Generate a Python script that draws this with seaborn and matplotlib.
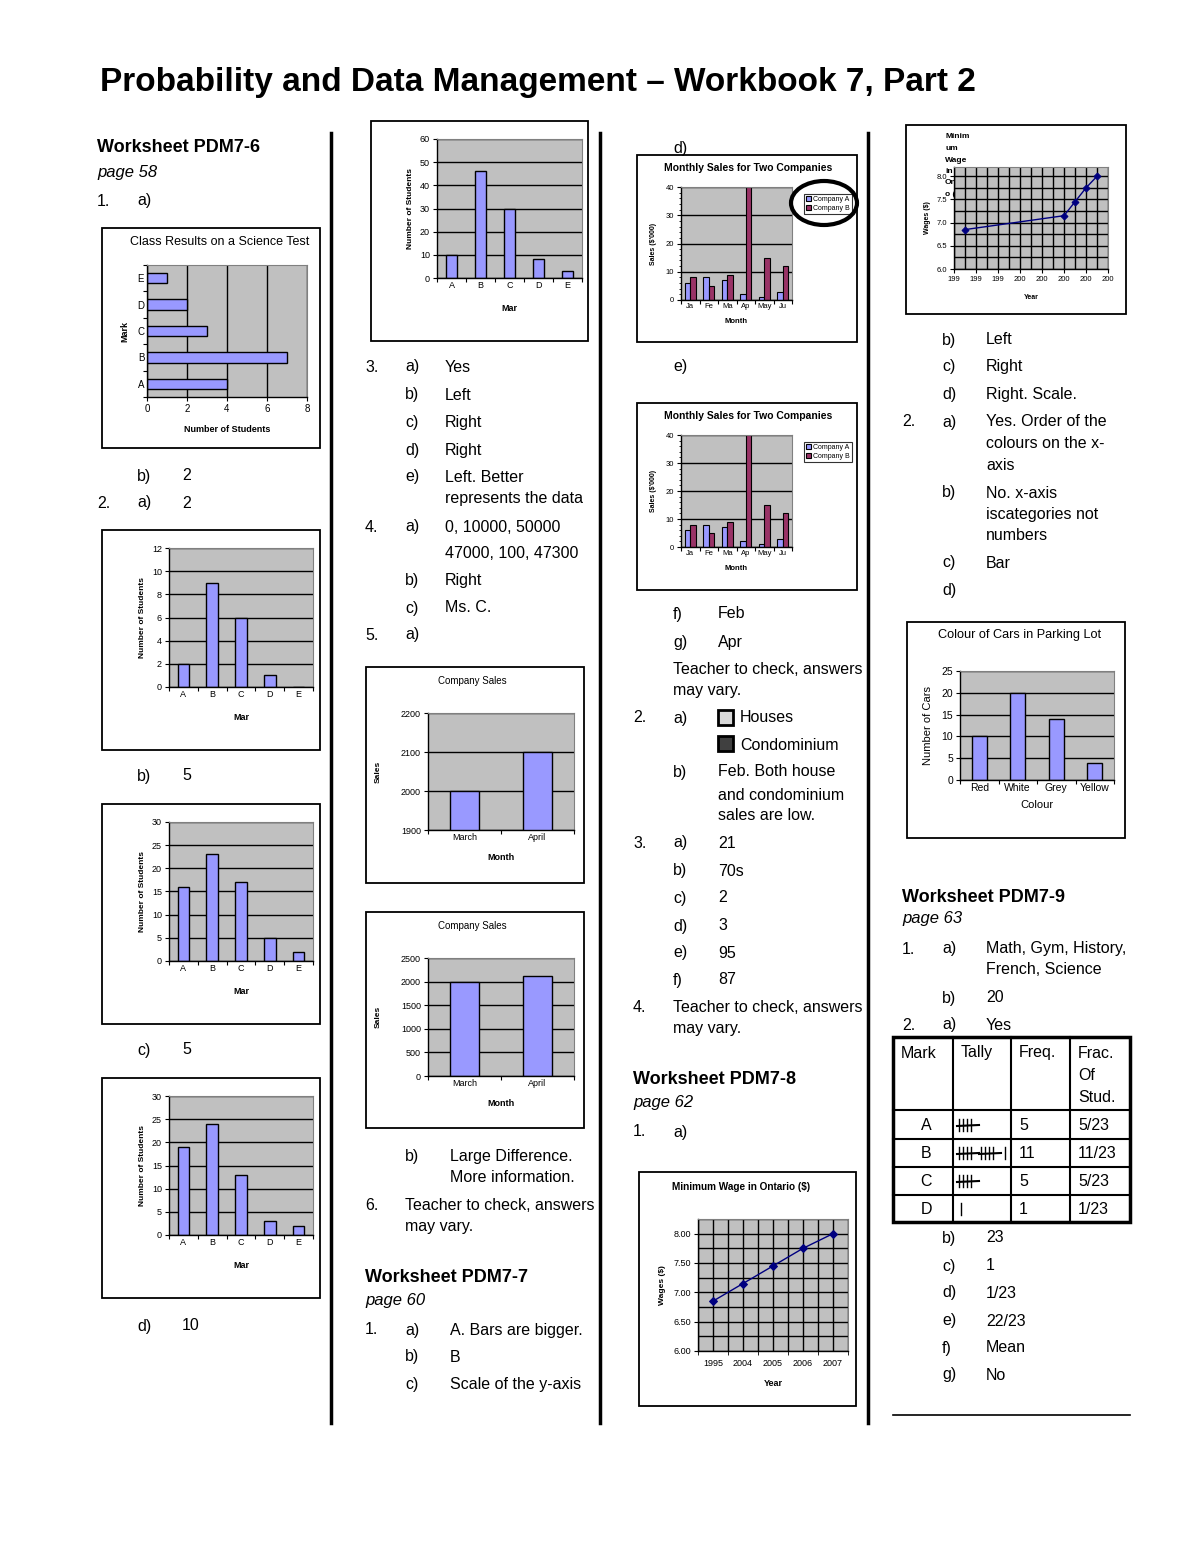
import numpy as np
import pandas as pd
import matplotlib
matplotlib.use('Agg')
import matplotlib.pyplot as plt
from matplotlib.patches import Rectangle, Ellipse
import seaborn as sns

plt.rcParams['font.family'] = ['Liberation Sans', 'DejaVu Sans']

# datos de los graficos
marks = ['A', 'B', 'C', 'D', 'E']
science_students = [4, 7, 3, 2, 1]
students_q2a = [2, 9, 6, 1, 0]
students_q2b = [16, 23, 17, 5, 2]
students_q2c = [19, 24, 13, 3, 2]
students_q3 = [10, 46, 30, 8, 3]

sales_months = ['March', 'April']
sales_zoomed = [2000, 2100]
sales_full = [2000, 2120]

monthly_months = ['Ja', 'Fe', 'Ma', 'Ap', 'May', 'Ju']
company_a = [6, 8, 7, 2, 1, 3]
company_b = [8, 5, 9, 40, 15, 12]

wage_years = ['1995', '2004', '2005', '2006', '2007']
wage_years_num = [1995, 2004, 2005, 2006, 2007]
wage_values = [6.85, 7.15, 7.45, 7.75, 8.00]

car_colours = ['Red', 'White', 'Grey', 'Yellow']
car_counts = [10, 20, 14, 4]

tally_marks = ['A', 'B', 'C', 'D']
tally_freq = [5, 11, 5, 1]
tally_frac = ['5/23', '11/23', '5/23', '1/23']

BAR = '#9999FF'
BAR2 = '#993366'
PLOT_BG = '#C0C0C0'
W, H = 1200, 1553
BODY = 11.5

fig = plt.figure(figsize=(12, 15.53), dpi=100)
page = fig.add_axes([0, 0, 1, 1])
page.set_xlim(0, W)
page.set_ylim(H, 0)
page.axis('off')


def make_ax(x0, y0, x1, y1, size=6.5):
    ax = fig.add_axes([x0 / W, 1 - y1 / H, (x1 - x0) / W, (y1 - y0) / H])
    ax.set_facecolor(PLOT_BG)
    for s in ['top', 'right']:
        ax.spines[s].set_color('#808080')
        ax.spines[s].set_linewidth(0.8)
    for s in ['left', 'bottom']:
        ax.spines[s].set_color('black')
        ax.spines[s].set_linewidth(1)
    ax.tick_params(labelsize=size, length=3, width=0.8, direction='out', pad=2)
    ax.set_axisbelow(True)
    return ax


def box(x0, y0, x1, y1, lw=1.3):
    page.add_patch(Rectangle((x0, y0), x1 - x0, y1 - y0, fill=False, lw=lw, ec='black'))


def t(x, y, s, **kw):
    kw.setdefault('fontsize', BODY)
    kw.setdefault('va', 'center')
    page.text(x, y, s, **kw)


def cat_ticks(ax, n):
    ax.set_xticks(np.arange(-0.5, n, 1), minor=True)
    ax.tick_params(axis='x', which='major', length=0)
    ax.tick_params(axis='x', which='minor', length=3, width=0.8)
    ax.set_xlim(-0.5, n - 0.5)


def hgrid(ax):
    ax.yaxis.grid(True, color='black', lw=1)
    ax.xaxis.grid(False)


# titulo
t(100, 82, 'Probability and Data Management \u2013 Workbook 7, Part 2', fontsize=24, weight='bold')

# lineas de columnas
for cx in [331, 600, 868]:
    page.plot([cx, cx], [133, 1423], color='black', lw=2.5)
page.plot([893, 1130], [1415, 1415], color='black', lw=1.2)

# ---------- columna 1 ----------
t(97, 148, 'Worksheet PDM7-6', fontsize=13, weight='bold')
t(97, 172, 'page 58', fontsize=12, style='italic')
col1 = [(97, 201, '1.'), (137, 201, 'a)'),
        (137, 476, 'b)'), (182, 476, '2'),
        (97, 503, '2.'), (137, 503, 'a)'), (182, 503, '2'),
        (137, 776, 'b)'), (182, 776, '5'),
        (137, 1050, 'c)'), (182, 1050, '5'),
        (137, 1326, 'd)'), (182, 1326, '10')]
for x, y, s in col1:
    t(x, y, s)

# grafico barras horizontales
box(102, 228, 320, 448)
ax = make_ax(147, 265, 307, 397, size=7)
sns.barplot(x=science_students, y=marks, order=marks[::-1], orient='h', color=BAR,
            edgecolor='black', linewidth=1, width=0.4, saturation=1, ax=ax)
ax.set_xlim(0, 8)
ax.set_xticks(range(0, 9, 2))
ax.xaxis.grid(True, color='black', lw=1)
ax.set_ylim(4.5, -0.5)
ax.set_yticks(np.arange(-0.5, 5, 1), minor=True)
ax.tick_params(axis='y', which='major', length=0)
ax.tick_params(axis='y', which='minor', length=3, width=0.8)
ax.set_ylabel('Mark', fontsize=6.5, weight='bold', labelpad=6)
ax.set_xlabel('Number of Students', fontsize=6.5, weight='bold', labelpad=8)
t(220, 242, 'Class Results on a Science Test', fontsize=9, ha='center')

# graficos de barras verticales de columna 1
for (by, vals, ymax, step) in [(530, students_q2a, 12, 2), (804, students_q2b, 30, 5), (1078, students_q2c, 30, 5)]:
    box(102, by, 320, by + 220)
    ax = make_ax(169, by + 18, 313, by + 157)
    sns.barplot(x=marks, y=vals, color=BAR, edgecolor='black', linewidth=1, width=0.4,
                saturation=1, ax=ax)
    ax.set_ylim(0, ymax)
    ax.set_yticks(range(0, ymax + 1, step))
    hgrid(ax)
    cat_ticks(ax, 5)
    ax.set_ylabel('Number of Students', fontsize=6, weight='bold', labelpad=4)
    ax.set_xlabel('Mar', fontsize=6.5, weight='bold', labelpad=10)

# ---------- columna 2 ----------
box(371, 121, 588, 341)
ax = make_ax(437, 139, 582, 278)
sns.barplot(x=marks, y=students_q3, color=BAR, edgecolor='black', linewidth=1, width=0.4,
            saturation=1, ax=ax)
ax.set_ylim(0, 60)
ax.set_yticks(range(0, 61, 10))
hgrid(ax)
cat_ticks(ax, 5)
ax.set_ylabel('Number of Students', fontsize=6, weight='bold', labelpad=4)
ax.set_xlabel('Mar', fontsize=6.5, weight='bold', labelpad=10)

col2 = [(365, 367, '3.'), (405, 367, 'a)'), (445, 367, 'Yes'),
        (405, 395, 'b)'), (445, 395, 'Left'),
        (405, 422, 'c)'), (445, 422, 'Right'),
        (405, 450, 'd)'), (445, 450, 'Right'),
        (405, 477, 'e)'), (445, 477, 'Left. Better'),
        (445, 499, 'represents the data'),
        (365, 527, '4.'), (405, 527, 'a)'), (445, 527, '0, 10000, 50000'),
        (445, 553, '47000, 100, 47300'),
        (405, 581, 'b)'), (445, 581, 'Right'),
        (405, 608, 'c)'), (445, 608, 'Ms. C.'),
        (365, 635, '5.'), (405, 635, 'a)'),
        (405, 1156, 'b)'), (450, 1156, 'Large Difference.'),
        (450, 1178, 'More information.'),
        (365, 1205, '6.'), (405, 1205, 'Teacher to check, answers'),
        (405, 1227, 'may vary.'),
        (365, 1330, '1.'), (405, 1330, 'a)'), (450, 1330, 'A. Bars are bigger.'),
        (405, 1357, 'b)'), (450, 1357, 'B'),
        (405, 1385, 'c)'), (450, 1385, 'Scale of the y-axis')]
for x, y, s in col2:
    t(x, y, s)
t(365, 1278, 'Worksheet PDM7-7', fontsize=13, weight='bold')
t(365, 1300, 'page 60', fontsize=12, style='italic')

# company sales
for (by, vals, ylim, step) in [(667, sales_zoomed, (1900, 2200), 100), (912, sales_full, (0, 2500), 500)]:
    box(366, by, 584, by + 216)
    ax = make_ax(428, by + 46, 574, by + 163 if by == 667 else by + 164)
    sns.barplot(x=sales_months, y=vals, color=BAR, edgecolor='black', linewidth=1, width=0.41,
                saturation=1, ax=ax)
    ax.set_ylim(*ylim)
    ax.set_yticks(range(ylim[0], ylim[1] + 1, step))
    hgrid(ax)
    cat_ticks(ax, 2)
    ax.set_ylabel('Sales', fontsize=6, weight='bold', labelpad=14)
    ax.set_xlabel('Month', fontsize=6.5, weight='bold', labelpad=8)
    t(472, by + 14, 'Company Sales', fontsize=7, ha='center')

# ---------- columna 3 ----------
monthly = pd.DataFrame({'Month': monthly_months * 2,
                        'Sales': company_a + company_b,
                        'Company': ['Company A'] * 6 + ['Company B'] * 6})
for (by, circled) in [(155, True), (403, False)]:
    box(637, by, 857, by + 187)
    ax = make_ax(681, by + 32, 792, by + 145 if circled else by + 144)
    sns.barplot(data=monthly, x='Month', y='Sales', hue='Company',
                palette=[BAR, BAR2], edgecolor='black', linewidth=0.8, width=0.6,
                saturation=1, ax=ax)
    ax.set_ylim(0, 40)
    ax.set_yticks(range(0, 41, 10))
    ax.set_yticks(range(0, 41, 2), minor=True)
    ax.tick_params(axis='y', which='minor', length=1.5, width=0.6)
    hgrid(ax)
    cat_ticks(ax, 6)
    ax.tick_params(labelsize=5.5)
    ax.set_ylabel("Sales ($'000)", fontsize=5, weight='bold', labelpad=6)
    ax.set_xlabel('Month', fontsize=5.5, weight='bold', labelpad=6)
    leg = ax.legend(loc='upper left', bbox_to_anchor=(1.08, 0.97), fontsize=5,
                    frameon=True, fancybox=False, edgecolor='black', handlelength=0.7,
                    handleheight=0.7, handletextpad=0.3, borderpad=0.3, labelspacing=0.3)
    leg.get_frame().set_linewidth(0.8)
    t(748, by + 13, 'Monthly Sales for Two Companies', fontsize=7.5, ha='center', weight='bold')
    if circled:
        fig.add_artist(Ellipse((824 / W, 1 - 203 / H), 66 / W, 44 / H, fill=False,
                               lw=3, ec='black', transform=fig.transFigure))

col3 = [(673, 148, 'd)'), (673, 367, 'e)'),
        (673, 614, 'f)'), (718, 614, 'Feb'),
        (673, 642, 'g)'), (718, 642, 'Apr'),
        (673, 669, 'Teacher to check, answers'), (673, 690, 'may vary.'),
        (633, 718, '2.'), (673, 718, 'a)'), (740, 718, 'Houses'),
        (740, 745, 'Condominium'),
        (673, 772, 'b)'), (718, 772, 'Feb. Both house'),
        (718, 795, 'and condominium'), (718, 816, 'sales are low.'),
        (633, 843, '3.'), (673, 843, 'a)'), (718, 843, '21'),
        (673, 871, 'b)'), (718, 871, '70s'),
        (673, 898, 'c)'), (718, 898, '2'),
        (673, 926, 'd)'), (718, 926, '3'),
        (673, 953, 'e)'), (718, 953, '95'),
        (673, 980, 'f)'), (718, 980, '87'),
        (633, 1008, '4.'), (673, 1008, 'Teacher to check, answers'),
        (673, 1029, 'may vary.'),
        (633, 1132, '1.'), (673, 1132, 'a)')]
for x, y, s in col3:
    t(x, y, s)
t(633, 1080, 'Worksheet PDM7-8', fontsize=13, weight='bold')
t(633, 1102, 'page 62', fontsize=12, style='italic')
page.add_patch(Rectangle((718, 710), 15, 15, fc='#D8D8D8', ec='black', lw=2))
page.add_patch(Rectangle((718, 736), 15, 15, fc='#404040', ec='black', lw=2))

# salario minimo (categorias)
box(639, 1172, 856, 1406)
ax = make_ax(698, 1219, 848, 1351)
sns.lineplot(x=np.arange(len(wage_years)), y=wage_values, color='#000080', marker='D',
             markersize=4, markeredgecolor='#000080', lw=1, ax=ax)
ax.set_xlim(-0.5, 4.5)
ax.set_xticks(range(len(wage_years)))
ax.set_xticklabels(wage_years)
ax.set_xticks(np.arange(-0.5, 4.6, 0.5), minor=True)
ax.set_ylim(6.0, 8.25)
ax.set_yticks(np.arange(6.0, 8.01, 0.5))
ax.set_yticklabels([f'{v:.2f}' for v in np.arange(6.0, 8.01, 0.5)])
ax.set_yticks(np.arange(6.0, 8.26, 0.25), minor=True)
ax.grid(True, which='both', color='black', lw=1)
ax.tick_params(axis='x', which='major', length=0, pad=6)
ax.tick_params(axis='x', which='minor', length=3)
ax.tick_params(axis='y', which='minor', length=0)
ax.set_ylabel('Wages ($)', fontsize=6, weight='bold', labelpad=5)
ax.set_xlabel('Year', fontsize=6.5, weight='bold', labelpad=8)
t(741, 1187, 'Minimum Wage in Ontario ($)', fontsize=7.2, ha='center', weight='bold')

# ---------- columna 4 ----------
box(906, 125, 1126, 314)
ax = make_ax(954, 167, 1108, 269, size=5.5)
sns.lineplot(x=wage_years_num, y=wage_values, color='#000080', marker='D',
             markersize=3.5, markeredgecolor='#000080', lw=1, ax=ax)
ax.set_xlim(1994, 2008)
ax.set_xticks(range(1994, 2009, 2))
ax.set_xticklabels([str(y)[:3] for y in range(1994, 2009, 2)])
ax.set_xticks(range(1994, 2009), minor=True)
ax.set_ylim(6.0, 8.2)
ax.set_yticks(np.arange(6.0, 8.01, 0.5))
ax.set_yticklabels([f'{v:.1f}' for v in np.arange(6.0, 8.01, 0.5)])
ax.set_yticks(np.arange(6.0, 8.21, 0.25), minor=True)
ax.grid(True, which='both', color='black', lw=1)
ax.tick_params(which='minor', length=0)
ax.set_ylabel('Wages ($)', fontsize=5, weight='bold', labelpad=4)
ax.set_xlabel('Year', fontsize=5, weight='bold', labelpad=8)
for i, s in enumerate(['Minim', 'um', 'Wage', 'in', 'Ontari', 'o ($)']):
    t(945, 137 + i * 11.5, s, fontsize=6, weight='bold')

col4 = [(942, 340, 'b)'), (986, 340, 'Left'),
        (942, 367, 'c)'), (986, 367, 'Right'),
        (942, 395, 'd)'), (986, 395, 'Right. Scale.'),
        (902, 422, '2.'), (942, 422, 'a)'), (986, 422, 'Yes. Order of the'),
        (986, 444, 'colours on the x-'), (986, 466, 'axis'),
        (942, 493, 'b)'), (986, 493, 'No. x-axis'),
        (986, 514, 'iscategories not'), (986, 536, 'numbers'),
        (942, 563, 'c)'), (986, 563, 'Bar'),
        (942, 590, 'd)'),
        (902, 949, '1.'), (942, 949, 'a)'), (986, 949, 'Math, Gym, History,'),
        (986, 970, 'French, Science'),
        (942, 998, 'b)'), (986, 998, '20'),
        (902, 1025, '2.'), (942, 1025, 'a)'), (986, 1025, 'Yes'),
        (942, 1238, 'b)'), (986, 1238, '23'),
        (942, 1266, 'c)'), (986, 1266, '1'),
        (942, 1293, 'd)'), (986, 1293, '1/23'),
        (942, 1321, 'e)'), (986, 1321, '22/23'),
        (942, 1348, 'f)'), (986, 1348, 'Mean'),
        (942, 1375, 'g)'), (986, 1375, 'No')]
for x, y, s in col4:
    t(x, y, s)
t(902, 897, 'Worksheet PDM7-9', fontsize=13, weight='bold')
t(902, 918, 'page 63', fontsize=12, style='italic')

# colores de coches
box(907, 622, 1125, 838)
ax = make_ax(960, 671, 1114, 780, size=7.5)
sns.barplot(x=car_colours, y=car_counts, color=BAR, edgecolor='black', linewidth=1, width=0.4,
            saturation=1, ax=ax)
ax.set_ylim(0, 25)
ax.set_yticks(range(0, 26, 5))
hgrid(ax)
cat_ticks(ax, 4)
ax.set_ylabel('Number of Cars', fontsize=8, labelpad=6)
ax.set_xlabel('Colour', fontsize=8, labelpad=5)
t(1020, 635, 'Colour of Cars in Parking Lot', fontsize=9.2, ha='center')

# tabla de frecuencias
page.add_patch(Rectangle((893, 1037), 237, 185, fill=False, ec='black', lw=2.5))
for vx in [953, 1011, 1070]:
    page.plot([vx, vx], [1037, 1222], color='black', lw=1.5)
for hy in [1110, 1139, 1167, 1195]:
    page.plot([893, 1130], [hy, hy], color='black', lw=1.5)
t(901, 1053, 'Mark')
t(961, 1053, 'Tally')
t(1019, 1053, 'Freq.')
t(1078, 1053, 'Frac.')
t(1078, 1075, 'Of')
t(1078, 1097, 'Stud.')
for i, (m, f, fr) in enumerate(zip(tally_marks, tally_freq, tally_frac)):
    cy = 1125 + i * 28
    t(926, cy, m, ha='center')
    t(1019, cy, str(f))
    t(1078, cy, fr)
    x = 959
    for g in range(f // 5):
        for k in range(4):
            page.plot([x + k * 4, x + k * 4], [cy - 6, cy + 6], color='black', lw=1)
        page.plot([x - 2, x + 20], [cy + 1, cy], color='black', lw=1.5)
        x += 22
    for k in range(f % 5):
        page.plot([x + k * 4 + 2, x + k * 4 + 2], [cy - 6, cy + 6], color='black', lw=1)

plt.savefig('out.png', dpi=100)
